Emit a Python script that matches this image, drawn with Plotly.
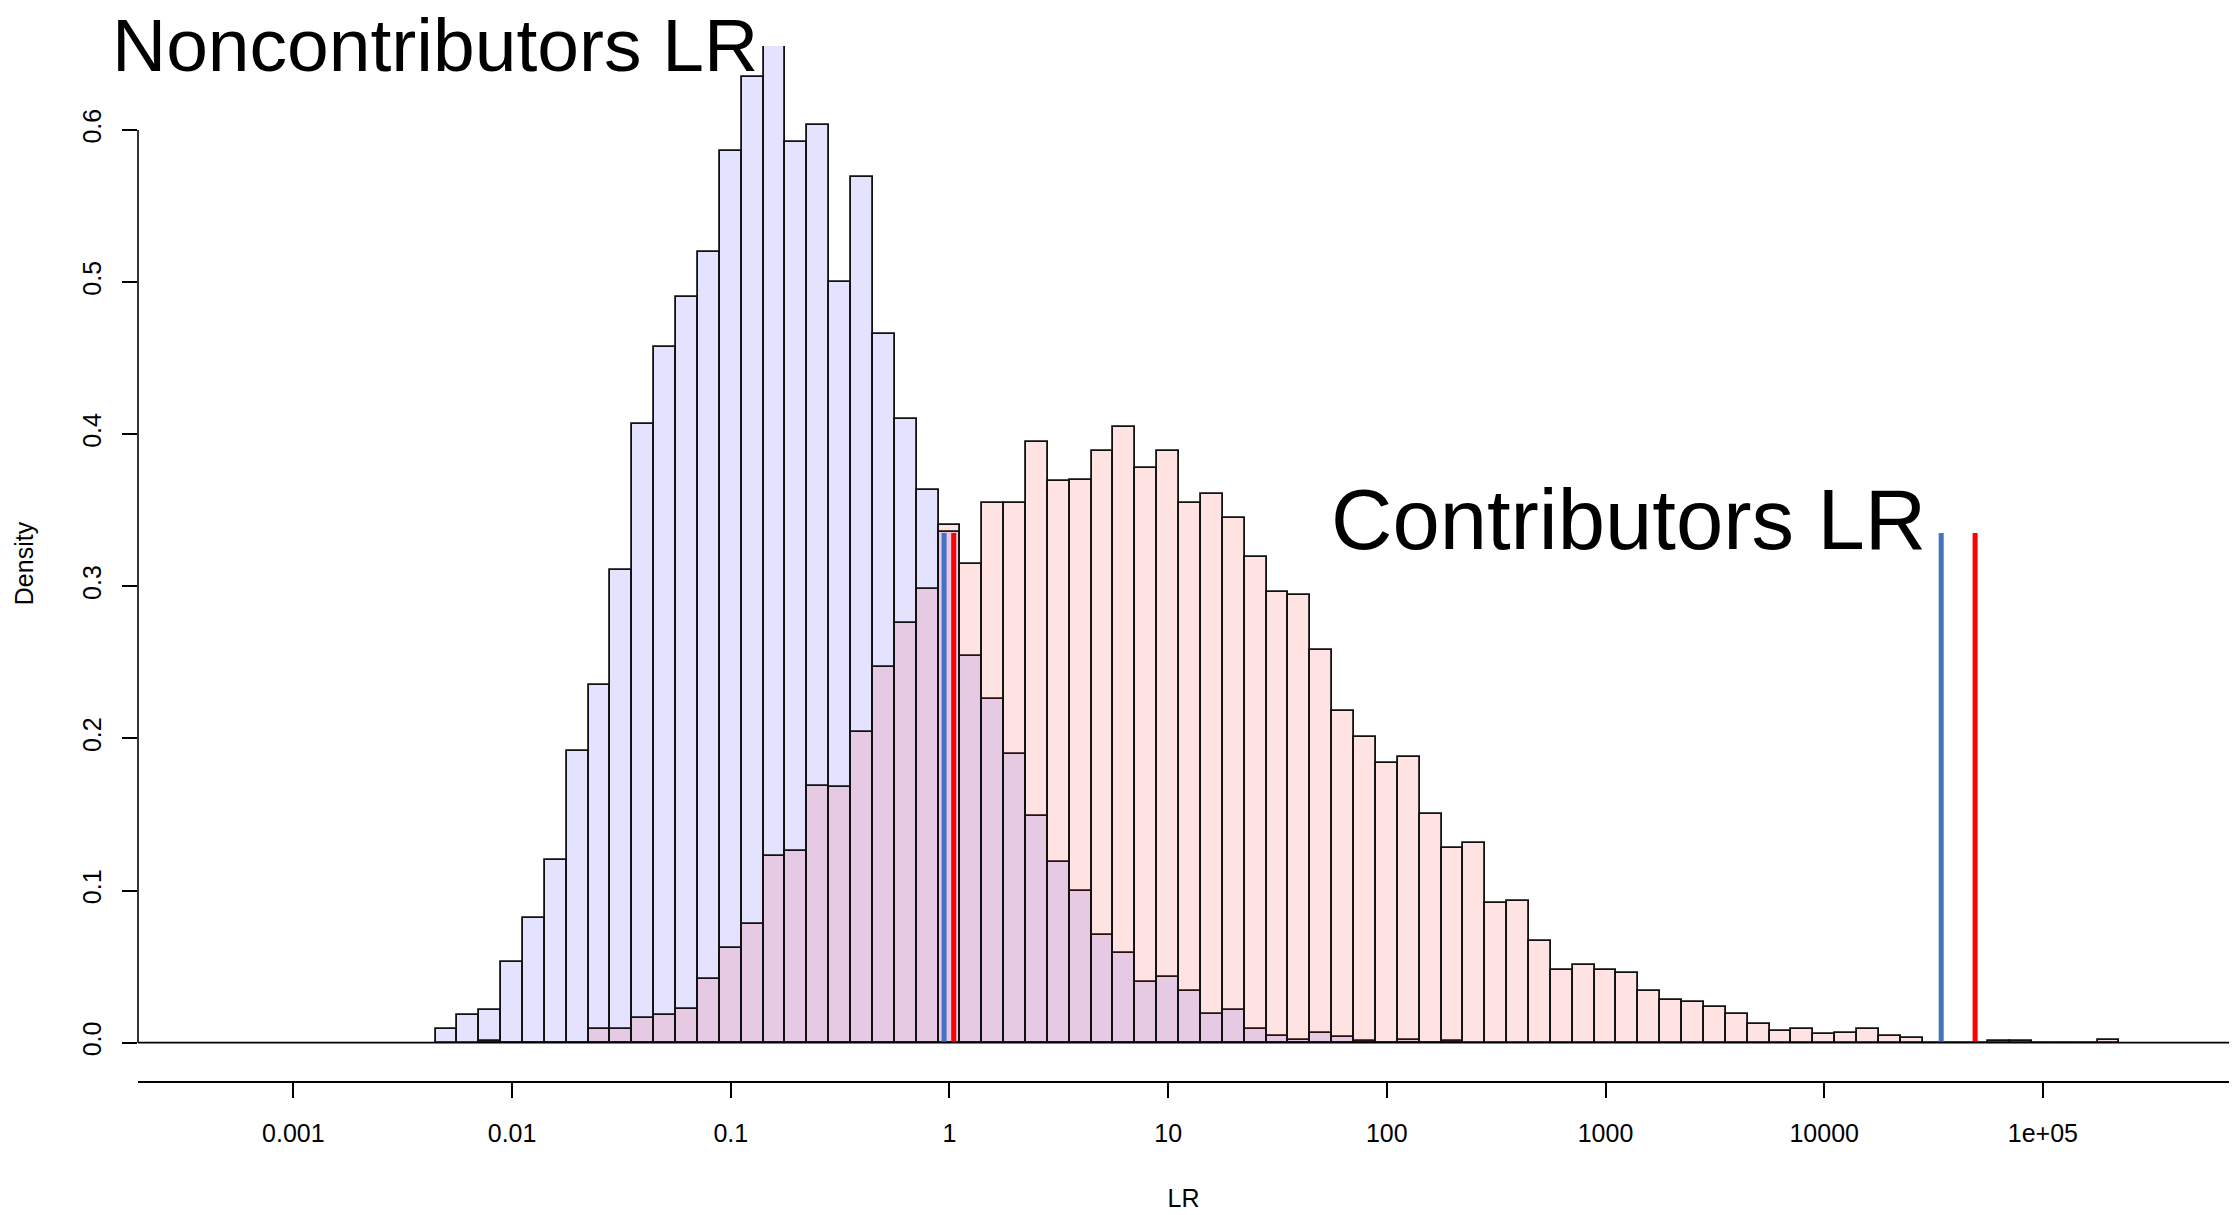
import plotly.graph_objects as go

# ---------------- data (log10 LR bin centres, bin width 0.1 decade) ----------------
nonc_bin_centers = [-2.3, -2.2, -2.1, -2.0, -1.9, -1.8, -1.7, -1.6, -1.5, -1.4,
                    -1.3, -1.2, -1.1, -1.0, -0.9, -0.8, -0.7, -0.6, -0.5, -0.4,
                    -0.3, -0.2, -0.1, 0.0, 0.1, 0.2, 0.3, 0.4, 0.5, 0.6,
                    0.7, 0.8, 0.9, 1.0, 1.1, 1.2, 1.3, 1.4, 1.5, 1.6,
                    1.7, 1.8, 1.9, 2.0, 2.1, 2.2, 2.3]
nonc_density = [0.009, 0.018, 0.0215, 0.053, 0.082, 0.120, 0.192, 0.235, 0.311, 0.407,
                0.457, 0.490, 0.520, 0.586, 0.635, 0.660, 0.592, 0.603, 0.500, 0.569,
                0.466, 0.410, 0.3636, 0.336, 0.2545, 0.226, 0.190, 0.149, 0.119, 0.100,
                0.0705, 0.059, 0.040, 0.043, 0.034, 0.019, 0.0215, 0.009, 0.0045, 0.002,
                0.0066, 0.0034, 0.001, 0.0, 0.002, 0.0, 0.001]

contrib_bin_centers = [-2.1, -2.0, -1.9, -1.8, -1.7, -1.6, -1.5, -1.4, -1.3, -1.2,
                       -1.1, -1.0, -0.9, -0.8, -0.7, -0.6, -0.5, -0.4, -0.3, -0.2,
                       -0.1, 0.0, 0.1, 0.2, 0.3, 0.4, 0.5, 0.6, 0.7, 0.8,
                       0.9, 1.0, 1.1, 1.2, 1.3, 1.4, 1.5, 1.6, 1.7, 1.8,
                       1.9, 2.0, 2.1, 2.2, 2.3, 2.4, 2.5, 2.6, 2.7, 2.8,
                       2.9, 3.0, 3.1, 3.2, 3.3, 3.4, 3.5, 3.6, 3.7, 3.8,
                       3.9, 4.0, 4.1, 4.2, 4.3, 4.4, 4.5, 4.6, 4.7, 4.8,
                       4.9, 5.0, 5.1, 5.2, 5.3]
contrib_density = [0.001, 0.0, 0.0, 0.0, 0.0, 0.009, 0.009, 0.016, 0.018, 0.022,
                   0.042, 0.062, 0.078, 0.123, 0.126, 0.169, 0.168, 0.2045, 0.2467, 0.276,
                   0.298, 0.340, 0.315, 0.355, 0.355, 0.395, 0.369, 0.370, 0.389, 0.4046,
                   0.378, 0.389, 0.355, 0.361, 0.345, 0.319, 0.296, 0.2946, 0.258, 0.218,
                   0.201, 0.184, 0.188, 0.150, 0.128, 0.131, 0.092, 0.0934, 0.067, 0.048,
                   0.0513, 0.048, 0.046, 0.034, 0.028, 0.027, 0.0237, 0.019, 0.0123, 0.0077,
                   0.009, 0.0054, 0.0066, 0.009, 0.0043, 0.0031, 0.0, 0.0, 0.0, 0.001,
                   0.001, 0.0, 0.0, 0.0, 0.0015]

bin_width = 0.1

# reference LR markers (log10 LR) and their height
blue_marker_log10 = [-0.0245, 4.535]
red_marker_log10 = [0.0195, 4.69]
marker_top = 0.335

x_tick_vals = [-3, -2, -1, 0, 1, 2, 3, 4, 5]
x_tick_text = ["0.001", "0.01", "0.1", "1", "10", "100", "1000", "10000", "1e+05"]
y_tick_vals = [0.0, 0.1, 0.2, 0.3, 0.4, 0.5, 0.6]
y_tick_text = ["0.0", "0.1", "0.2", "0.3", "0.4", "0.5", "0.6"]

FONT = "Liberation Sans, Arial, Helvetica, sans-serif"

fig = go.Figure()

fig.add_trace(go.Bar(
    x=nonc_bin_centers, y=nonc_density, width=bin_width,
    marker=dict(color="rgba(0,0,255,0.11)", line=dict(color="#111111", width=1.8)),
    name="Noncontributors", showlegend=False, hoverinfo="x+y"))

fig.add_trace(go.Bar(
    x=contrib_bin_centers, y=contrib_density, width=bin_width,
    marker=dict(color="rgba(255,0,0,0.11)", line=dict(color="#111111", width=1.8)),
    name="Contributors", showlegend=False, hoverinfo="x+y"))

for xv in blue_marker_log10:
    fig.add_trace(go.Scatter(x=[xv, xv], y=[0, marker_top], mode="lines",
                             line=dict(color="#4472C4", width=5),
                             showlegend=False, hoverinfo="skip"))
for xv in red_marker_log10:
    fig.add_trace(go.Scatter(x=[xv, xv], y=[0, marker_top], mode="lines",
                             line=dict(color="#FF0000", width=5),
                             showlegend=False, hoverinfo="skip"))

W, H = 2233, 1215
ml, mr, mt, mb = 138, 4, 46, 134

fig.update_layout(
    width=W, height=H, autosize=False,
    margin=dict(l=ml, r=mr, t=mt, b=mb, pad=0),
    paper_bgcolor="white", plot_bgcolor="white",
    barmode="overlay", bargap=0,
    font=dict(family=FONT, color="black", size=25),
    xaxis=dict(
        range=[-3.7105, 5.851], tickmode="array", tickvals=x_tick_vals, ticktext=x_tick_text,
        ticks="outside", ticklen=15, tickwidth=1.6, tickcolor="black",
        showline=True, linecolor="black", linewidth=1.6, mirror=False,
        showgrid=False, zeroline=False,
        tickfont=dict(family=FONT, size=25, color="black"),
        ticklabelstandoff=14,
        title=dict(text="LR", font=dict(family=FONT, size=25, color="black"), standoff=44),
    ),
    yaxis=dict(
        range=[-0.0252, 0.6552], tickmode="array", tickvals=y_tick_vals, ticktext=y_tick_text,
        ticks="outside", ticklen=15, tickwidth=1.6, tickcolor="black",
        showline=False, showgrid=False, zeroline=False,
        tickangle=-90,
        tickfont=dict(family=FONT, size=25, color="black"),
        ticklabelstandoff=11,
        title=dict(text="Density", font=dict(family=FONT, size=25, color="black"), standoff=37),
    ),
    shapes=[
        dict(type="line", xref="paper", yref="y", x0=0, x1=0, y0=0, y1=0.6,
             line=dict(color="black", width=1.6)),
        dict(type="line", xref="paper", yref="y", x0=0, x1=1, y0=0, y1=0,
             line=dict(color="black", width=1.6)),
    ],
    annotations=[
        dict(text="Noncontributors LR", xref="paper", yref="paper",
             x=(110 - ml) / (W - ml - mr), y=(H - mb - 45) / (H - mt - mb),
             xanchor="left", yanchor="middle", showarrow=False,
             font=dict(family=FONT, size=75, color="black")),
        dict(text="Contributors LR", xref="paper", yref="paper",
             x=(1329 - ml) / (W - ml - mr), y=(H - mb - 519) / (H - mt - mb),
             xanchor="left", yanchor="middle", showarrow=False,
             font=dict(family=FONT, size=85, color="black")),
    ],
)

fig.write_html("out.html")
